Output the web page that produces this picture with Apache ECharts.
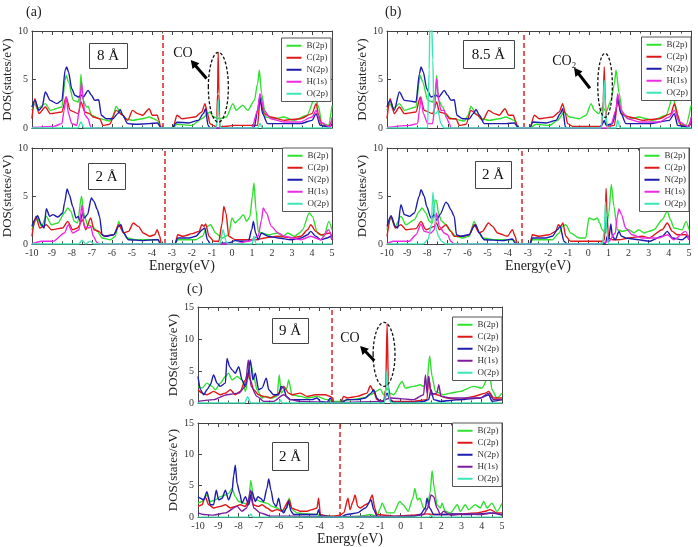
<!DOCTYPE html>
<html><head><meta charset="utf-8">
<script src="https://cdn.jsdelivr.net/npm/echarts@6/dist/echarts.min.js"></script>
<style>html,body{margin:0;padding:0;background:#fff}#c{width:698px;height:547px}</style>
</head><body><div id="c"></div>
<script>
// ---------------- DATA (energy eV, DOS states/eV) ----------------
const seriesNames = ['B(2p)','C(2p)','N(2p)','H(1s)','O(2p)'];
const energyTicks = [-10,-9,-8,-7,-6,-5,-4,-3,-2,-1,0,1,2,3,4,5];
const panelLabels = ['(a)','(b)','(c)'];
const distanceLabels = ['8 Å','2 Å','8.5 Å','2 Å','9 Å','2 Å'];
const fermiLevels = [-3.45,-3.35,-3.25,-3.3,-3.4,-3.0];

// (a) top, 8 Å
const aT_B=[[-10,1.82],[-9.85,2.51],[-9.74,1.99],[-9.33,2.51],[-9.08,1.82],[-8.5,2.16],[-8.34,4.91],[-8.29,5.43],[-8.17,4.74],[-7.93,2.85],[-7.68,2.68],[-7.6,3.5],[-7.55,5.53],[-7.48,3.5],[-7.43,2.85],[-7.27,2.16],[-7.19,2.23],[-7.02,1.31],[-6.61,0.96],[-6.12,0.72],[-5.95,1.2],[-5.79,2.23],[-5.54,1.48],[-5.3,0.96],[-4.97,0.79],[-4.47,0.96],[-4.14,1.13],[-3.73,0.79],[-3.57,0.1],[-3.49,0],[-2.95,0],[-2.75,0.38],[-2.01,0.27],[-1.51,0.96],[-1.1,1.65],[-0.94,1.13],[-0.61,0.96],[-0.28,1.13],[0.05,2.51],[0.21,1.82],[0.54,2.34],[0.79,1.82],[1.12,2.85],[1.28,4.57],[1.37,5.95],[1.48,3.54],[1.69,1.13],[2.11,0.96],[2.6,1.13],[3.09,0.79],[3.75,1.31],[4.16,3.2],[4.33,2.16],[4.49,0.45],[4.82,0.27],[5,2.34]];
const aT_C=[[-10,0.96],[-9.85,3.02],[-9.65,1.48],[-9.33,2.16],[-9.08,1.48],[-8.5,1.65],[-8.29,3.2],[-8.09,1.82],[-7.68,1.48],[-7.55,2.68],[-7.35,1.65],[-7.11,1.48],[-6.94,1.13],[-6.61,0.96],[-6.45,0.27],[-6.12,0.38],[-5.79,1.82],[-5.46,1.31],[-5.21,0.79],[-4.97,1.82],[-4.72,1.48],[-4.47,1.31],[-4.14,1.99],[-3.98,1.31],[-3.73,1.31],[-3.65,0.79],[-3.57,0.1],[-3.49,0],[-2.95,0],[-2.75,1.31],[-2.5,0.96],[-1.84,1.13],[-1.51,1.65],[-1.35,2.51],[-1.22,1.48],[-1.1,0.45],[-0.94,0.27],[-0.77,0.1],[-0.72,3.5],[-0.69,7.8],[-0.65,3.5],[-0.61,0.1],[0.13,0.27],[1.28,0.27],[1.4,2.85],[1.61,1.48],[1.94,1.13],[2.6,0.79],[3.42,0.96],[4.0,1.48],[4.21,2.51],[4.33,1.31],[4.49,0.27],[4.82,0.17],[5,0.79]];
const aT_N=[[-10,2.16],[-9.85,2.85],[-9.65,1.82],[-9.49,2.16],[-9.33,3.71],[-9.08,2.85],[-8.75,2.51],[-8.5,2.85],[-8.34,5.95],[-8.26,6.29],[-8.17,5.77],[-8.01,4.05],[-7.85,3.37],[-7.68,3.2],[-7.52,3.37],[-7.43,3.2],[-7.19,3.88],[-7.02,3.37],[-6.86,2.85],[-6.66,2.92],[-6.53,1.31],[-6.28,0.96],[-5.95,0.96],[-5.71,1.48],[-5.59,1.92],[-5.46,1.31],[-5.21,0.45],[-4.8,0.38],[-4.14,0.45],[-3.73,0.52],[-3.57,0.1],[-3.49,0],[-2.95,0],[-2.85,0.4],[-2.75,0.6],[-2.17,0.52],[-1.68,0.79],[-1.43,1.48],[-1.32,1.99],[-1.2,0.3],[-1.1,0],[0.9,0],[1.12,0.1],[1.28,1.82],[1.4,3.2],[1.53,1.48],[1.78,0.45],[2.6,0.45],[3.42,0.45],[4.0,0.79],[4.21,1.48],[4.41,0.27],[4.9,0.1],[5,0.45]];
const aT_H=[[-10,0.05],[-8.91,0.17],[-8.5,0.45],[-8.39,1.82],[-8.29,3.2],[-8.17,1.48],[-8.01,0.45],[-7.76,0.27],[-7.63,1.82],[-7.52,4.74],[-7.43,2.85],[-7.35,1.31],[-7.19,0.96],[-7.07,0.17],[-7.02,0],[1.0,0],[1.28,1.82],[1.4,3.54],[1.61,1.82],[1.94,0.96],[2.6,0.62],[3.42,0.62],[4.0,1.13],[4.21,1.82],[4.41,0.62],[4.9,0.1],[5,1.13]];
const aT_O=[[-10,0],[-7.7,0],[-7.55,0.62],[-7.4,0],[-0.8,0],[-0.72,1.5],[-0.69,2.92],[-0.65,1.5],[-0.58,0],[1.3,0],[1.4,0.5],[1.5,0],[5,0]];

// (a) bottom, 2 Å
const aB_B=[[-10,1.49],[-9.72,2.71],[-9.52,1.84],[-9.28,2.88],[-9.03,2.01],[-8.7,2.19],[-8.37,3.23],[-8.21,3.75],[-8.05,3.4],[-7.88,2.36],[-7.72,2.19],[-7.52,4.97],[-7.39,3.06],[-7.22,2.01],[-6.98,1.84],[-6.73,1.32],[-6.49,0.63],[-6.08,0.45],[-5.83,0.8],[-5.66,2.36],[-5.5,1.49],[-5.25,0.63],[-4.76,0.45],[-4.11,0.45],[-3.69,0.45],[-3.6,0.1],[-3.53,0],[-2.85,0],[-2.71,0.45],[-1.81,0.45],[-1.48,0.8],[-1.23,1.84],[-1.07,2.01],[-0.82,1.15],[-0.49,0.63],[-0.16,0.97],[0.0,2.71],[0.16,2.19],[0.33,2.53],[0.57,3.06],[0.74,2.36],[0.9,2.88],[1.02,4.97],[1.1,6.35],[1.2,3.58],[1.31,1.32],[1.48,1.15],[1.81,0.97],[2.3,1.15],[2.55,0.8],[2.79,1.15],[3.12,0.8],[3.37,1.15],[3.53,1.49],[3.86,3.23],[4.02,2.88],[4.27,1.15],[4.6,0.8],[4.84,2.36],[5,1.49]];
const aB_C=[[-10,0.8],[-9.8,2.88],[-9.61,1.67],[-9.28,2.01],[-9.03,1.49],[-8.46,1.67],[-8.21,2.36],[-7.96,1.49],[-7.72,1.67],[-7.47,2.53],[-7.31,1.49],[-7.06,2.71],[-6.9,1.49],[-6.65,1.32],[-6.4,0.8],[-5.91,0.97],[-5.66,2.01],[-5.42,1.15],[-5.17,1.32],[-4.93,2.19],[-4.68,1.84],[-4.43,1.15],[-4.11,0.8],[-3.86,0.97],[-3.74,1.49],[-3.61,0.8],[-3.53,0],[-2.85,0],[-2.71,0.97],[-2.46,0.8],[-1.97,1.08],[-1.64,1.32],[-1.51,2.01],[-1.4,1.84],[-1.31,2.08],[-1.15,0.8],[-0.9,0.28],[-0.66,0.28],[-0.49,2.19],[-0.41,3.92],[-0.3,3.23],[-0.16,0.8],[0.16,0.45],[0.82,0.45],[1.2,0.45],[1.64,0.63],[2.3,0.8],[2.96,0.63],[3.45,0.8],[3.78,1.49],[3.94,2.01],[4.19,1.32],[4.43,0.97],[4.93,1.15],[5,0.45]];
const aB_N=[[-10,1.84],[-9.85,2.53],[-9.72,2.95],[-9.52,2.01],[-9.39,1.67],[-9.28,3.68],[-9.11,2.88],[-8.95,3.06],[-8.7,2.81],[-8.46,3.23],[-8.37,4.27],[-8.24,5.73],[-8.13,5.14],[-7.96,3.92],[-7.8,2.71],[-7.68,2.88],[-7.59,2.36],[-7.47,3.23],[-7.39,2.71],[-7.22,3.06],[-7.03,4.79],[-6.9,4.44],[-6.73,3.58],[-6.62,2.88],[-6.49,0.97],[-6.32,0.8],[-5.91,0.97],[-5.66,1.84],[-5.55,2.01],[-5.42,1.15],[-5.17,0.45],[-4.43,0.35],[-3.86,0.45],[-3.69,0.45],[-3.61,0.1],[-3.53,0],[-2.85,0],[-2.71,0.63],[-2.13,0.63],[-1.81,0.8],[-1.48,1.49],[-1.36,1.67],[-1.23,0.45],[-1.07,0],[-0.16,0.1],[0.16,0.35],[0.49,0.28],[0.82,0.28],[0.99,1.49],[1.07,2.36],[1.18,1.15],[1.31,0.45],[1.48,1.15],[1.81,0.8],[2.3,0.63],[2.96,0.45],[3.45,0.63],[3.78,0.97],[3.94,1.32],[4.19,0.8],[4.43,0.45],[4.76,0.63],[4.93,0.8],[5,0.45]];
const aB_H=[[-10,0],[-9.52,0.28],[-8.95,0.28],[-8.37,1.15],[-8.18,2.01],[-7.96,1.15],[-7.64,1.49],[-7.5,4.1],[-7.39,1.84],[-7.14,1.67],[-7.06,1.84],[-6.93,0.8],[-6.73,0.1],[-6.57,0],[0.16,0],[0.82,0.28],[1.31,0.8],[1.48,2.53],[1.56,3.75],[1.72,3.23],[1.97,1.84],[2.3,1.15],[2.63,0.8],[3.45,0.45],[3.94,0.8],[4.43,0.45],[4.84,1.49],[5,0.45]];
const aB_O=[[-10,0],[-7.65,0],[-7.5,0.4],[-7.3,0],[-7.1,0.3],[-6.9,0],[-0.6,0],[-0.45,1.49],[-0.3,0.3],[-0.2,0],[1.0,0],[1.1,0.8],[1.2,0],[5,0]];

// (b) top, 8.5 Å
const bT_B=[[-10,1.82],[-9.85,2.51],[-9.72,1.99],[-9.39,2.51],[-9.14,1.82],[-8.57,2.16],[-8.4,4.91],[-8.36,5.43],[-8.24,4.74],[-7.99,2.85],[-7.75,2.68],[-7.62,3.5],[-7.55,5.43],[-7.48,3.5],[-7.45,2.85],[-7.25,2.16],[-7.09,1.31],[-6.76,0.96],[-6.18,0.72],[-6.0,1.3],[-5.86,2.23],[-5.61,1.48],[-5.36,0.96],[-4.95,0.79],[-4.46,0.96],[-4.13,1.13],[-3.72,0.79],[-3.55,0.1],[-3.47,0],[-2.95,0],[-2.65,0.38],[-1.99,0.27],[-1.58,0.79],[-1.25,1.65],[-1.0,1.13],[-0.51,0.96],[-0.18,1.31],[0.07,2.51],[0.23,1.82],[0.44,1.48],[0.64,2.16],[0.81,1.65],[1.05,2.85],[1.22,4.57],[1.3,5.95],[1.46,3.54],[1.63,1.31],[1.96,0.96],[2.45,1.13],[2.78,0.96],[3.11,0.79],[3.77,1.31],[4.1,3.2],[4.26,2.16],[4.42,0.45],[4.75,0.27],[5,2.34]];
const bT_C=[[-10,0.96],[-9.85,3.02],[-9.64,1.48],[-9.39,2.16],[-9.14,1.48],[-8.57,1.65],[-8.36,3.2],[-8.16,1.82],[-7.75,1.48],[-7.55,2.68],[-7.42,1.65],[-7.09,1.48],[-6.92,0.96],[-6.6,0.96],[-6.43,0.27],[-6.1,0.38],[-5.86,1.82],[-5.53,1.31],[-5.28,0.79],[-4.98,1.82],[-4.7,1.48],[-4.46,1.31],[-4.18,1.99],[-4.0,1.31],[-3.77,1.31],[-3.67,0.79],[-3.55,0.1],[-3.47,0],[-2.95,0],[-2.73,1.31],[-2.48,0.96],[-1.83,1.13],[-1.5,1.65],[-1.33,2.51],[-1.2,1.48],[-1.09,0.45],[-0.84,0.17],[0.6,0.17],[0.67,2.85],[0.72,6.29],[0.77,2.85],[0.84,0.17],[1.22,0.27],[1.38,2.85],[1.55,1.48],[1.96,1.13],[2.62,0.79],[3.44,0.96],[4.01,1.48],[4.18,2.51],[4.34,1.31],[4.51,0.27],[4.84,0.17],[5,0.79]];
const bT_N=[[-10,2.16],[-9.85,2.85],[-9.64,1.82],[-9.39,3.71],[-9.14,2.85],[-8.57,2.68],[-8.4,5.6],[-8.32,6.29],[-8.21,5.77],[-8.04,4.05],[-7.83,3.2],[-7.58,3.37],[-7.45,3.2],[-7.17,3.88],[-7.01,3.37],[-6.84,2.85],[-6.68,2.92],[-6.55,1.31],[-6.27,0.96],[-5.94,0.96],[-5.74,1.48],[-5.61,1.92],[-5.44,1.31],[-5.2,0.45],[-4.13,0.45],[-3.72,0.52],[-3.55,0.1],[-3.47,0],[-2.95,0],[-2.81,0.62],[-2.15,0.52],[-1.66,0.79],[-1.45,1.48],[-1.33,1.99],[-1.2,0.1],[-1.09,0],[0.5,0],[0.64,0.45],[0.72,0.79],[0.81,0.27],[1.13,0.45],[1.3,1.82],[1.38,3.2],[1.55,1.48],[1.79,0.45],[2.94,0.45],[3.93,0.79],[4.18,1.48],[4.34,0.27],[4.84,0.1],[5,0.45]];
const bT_H=[[-10,0.05],[-8.9,0.27],[-8.49,0.45],[-8.4,1.82],[-8.32,3.2],[-8.21,1.48],[-7.99,0.45],[-7.75,0.45],[-7.66,1.82],[-7.55,5.1],[-7.45,2.85],[-7.34,1.82],[-7.17,1.82],[-7.09,1.13],[-6.92,0.45],[-6.84,0],[1.0,0],[1.3,1.82],[1.38,3.54],[1.55,1.82],[1.88,0.96],[2.45,0.62],[3.44,0.62],[3.93,1.13],[4.18,1.82],[4.42,0.62],[4.92,0.1],[5,1.13]];
const bT_O=[[-10,0],[-8.0,0],[-7.92,6],[-7.88,11],[-7.8,11],[-7.74,7],[-7.68,1.5],[-7.58,1.5],[-7.48,1.8],[-7.35,0.5],[-7.2,0],[0.55,0],[0.65,1.5],[0.72,4.9],[0.79,1.5],[0.88,0],[1.3,0],[1.38,0.8],[1.5,0],[5,0]];

// (b) bottom, 2 Å
const bB_B=[[-10,1.49],[-9.8,2.71],[-9.59,1.84],[-9.31,2.88],[-9.06,2.01],[-8.64,2.53],[-8.4,3.4],[-8.26,3.75],[-8.07,3.23],[-7.9,2.36],[-7.74,2.19],[-7.62,4.6],[-7.54,4.5],[-7.44,3.2],[-7.3,2.4],[-7.07,2.01],[-6.91,1.49],[-6.58,0.8],[-6.25,0.63],[-5.92,0.8],[-5.67,2.36],[-5.5,1.49],[-5.26,0.63],[-4.6,0.45],[-3.77,0.45],[-3.64,0.3],[-3.52,0],[-2.9,0],[-2.78,0.45],[-1.79,0.45],[-1.45,1.15],[-1.29,1.84],[-1.12,2.01],[-0.88,1.15],[-0.46,0.63],[-0.13,0.63],[0.03,2.71],[0.28,2.53],[0.45,2.71],[0.56,2.19],[0.69,1.49],[0.86,1.15],[1.02,3.23],[1.14,6.2],[1.27,3.92],[1.44,1.49],[1.69,1.32],[2.02,1.49],[2.26,1.15],[2.51,1.49],[2.76,1.15],[3.01,1.32],[3.26,1.49],[3.67,2.53],[3.92,3.4],[4.08,2.53],[4.25,1.67],[4.66,1.49],[4.86,2.36],[5,1.49]];
const bB_C=[[-10,0.8],[-9.8,2.88],[-9.59,1.67],[-9.31,2.01],[-9.06,1.49],[-8.56,1.6],[-8.31,2.36],[-8.07,1.49],[-7.65,1.84],[-7.54,2.19],[-7.4,1.49],[-7.07,2.01],[-6.83,1.32],[-6.66,0.8],[-6.25,0.8],[-5.92,0.97],[-5.67,2.01],[-5.42,1.15],[-5.26,1.32],[-4.96,2.19],[-4.76,1.84],[-4.51,1.15],[-4.02,0.8],[-3.77,1.49],[-3.64,0.8],[-3.52,0],[-2.9,0],[-2.78,0.97],[-2.45,0.8],[-1.95,0.97],[-1.62,1.32],[-1.49,2.01],[-1.37,1.84],[-1.26,2.19],[-1.12,0.8],[-0.88,0.28],[0.69,0.28],[0.8,0.45],[0.85,3.0],[0.88,5.8],[0.93,3.0],[1.0,0.6],[1.19,0.45],[1.52,0.45],[2.02,0.63],[2.68,0.8],[3.01,0.63],[3.67,1.49],[3.92,2.19],[4.17,1.32],[4.41,0.97],[4.83,0.97],[5,0.8]];
const bB_N=[[-10,1.84],[-9.8,2.95],[-9.59,1.84],[-9.47,1.67],[-9.31,4.1],[-9.14,3.06],[-8.89,2.88],[-8.64,3.23],[-8.4,4.97],[-8.31,5.66],[-8.15,4.97],[-8.03,3.92],[-7.82,2.71],[-7.65,3.06],[-7.54,2.46],[-7.37,3.06],[-7.07,4.36],[-6.99,4.2],[-6.83,3.58],[-6.66,2.88],[-6.55,0.97],[-6.33,0.8],[-5.92,0.97],[-5.67,1.84],[-5.59,2.01],[-5.42,1.15],[-5.17,0.45],[-4.26,0.35],[-3.77,0.52],[-3.64,0.1],[-3.52,0],[-2.9,0],[-2.78,0.63],[-2.12,0.63],[-1.79,0.8],[-1.54,1.49],[-1.4,1.84],[-1.21,0.28],[-1.04,0],[0.5,0],[0.86,0.1],[0.94,0.8],[1.0,0.3],[1.12,2.1],[1.19,0.8],[1.34,0.45],[1.52,1.3],[1.65,0.8],[1.93,0.6],[2.51,0.45],[3.01,0.28],[3.67,0.8],[3.92,1.32],[4.17,0.63],[4.66,0.45],[4.91,0.8],[5,0.45]];
const bB_H=[[-10,0],[-9.7,0.28],[-8.89,0.28],[-8.56,0.97],[-8.31,2.08],[-8.15,1.32],[-7.82,1.15],[-7.65,1.49],[-7.54,3.23],[-7.4,1.84],[-7.16,1.15],[-6.99,0.97],[-6.83,0.28],[-6.66,0],[0.5,0],[1.02,0.28],[1.34,1.15],[1.44,2.88],[1.52,3.65],[1.65,3.06],[1.85,1.67],[2.18,0.97],[2.68,0.63],[3.5,0.63],[3.92,0.97],[4.25,0.45],[4.83,1.32],[5,0.45]];
const bB_O=[[-10,0],[-8.2,0],[-7.95,0.5],[-7.8,2.0],[-7.72,5.4],[-7.64,3.5],[-7.55,1.5],[-7.44,0.8],[-7.3,0.3],[-7.1,0],[0.7,0],[0.8,1.5],[0.85,4.4],[0.9,1.8],[1.0,0],[5,0]];

// (c) top, 9 Å
const cT_B=[[-10,2.59],[-9.8,2.33],[-9.56,3.1],[-9.31,2.59],[-9.14,2.07],[-8.9,3.1],[-8.65,4.14],[-8.49,4.66],[-8.32,3.62],[-8.07,4.14],[-7.83,3.62],[-7.66,1.81],[-7.55,3.62],[-7.42,6.47],[-7.25,4.14],[-7.09,2.07],[-6.84,0.78],[-6.68,1.03],[-6.35,0.78],[-6.1,1.03],[-5.99,4.4],[-5.9,1.55],[-5.74,2.07],[-5.61,2.33],[-5.53,3.62],[-5.36,1.29],[-4.95,1.03],[-4.62,0.78],[-4.13,1.03],[-3.63,0.52],[-3.31,0.26],[-2.98,0.26],[-2.48,0.52],[-1.83,0.78],[-1.5,1.29],[-1.0,2.17],[-0.84,1.29],[-0.67,2.33],[-0.54,1.55],[-0.35,1.29],[0.07,3.36],[0.23,2.33],[0.64,2.59],[0.97,2.85],[1.13,2.59],[1.3,3.36],[1.43,7.35],[1.55,4.14],[1.71,1.81],[2.12,1.29],[2.45,1.55],[2.94,1.81],[3.6,2.59],[4.01,2.33],[4.39,4.55],[4.51,2.07],[4.75,0.78],[5,1.55]];
const cT_C=[[-10,2.07],[-9.8,1.55],[-9.56,1.29],[-9.23,1.81],[-8.9,1.29],[-8.65,1.55],[-8.4,2.07],[-8.16,1.29],[-7.92,1.81],[-7.66,3.62],[-7.55,4.66],[-7.42,3.62],[-7.25,2.07],[-7.01,1.29],[-6.76,1.03],[-6.43,0.78],[-6.1,1.29],[-5.77,2.59],[-5.53,1.55],[-5.36,1.29],[-4.95,1.55],[-4.62,1.03],[-4.21,1.29],[-3.96,1.29],[-3.72,1.29],[-3.47,1.03],[-3.34,0.78],[-3.31,0],[-2.98,0],[-2.81,1.03],[-2.65,0.78],[-2.15,1.03],[-1.66,1.55],[-1.5,2.69],[-1.33,1.81],[-1.17,0.52],[-0.84,0.26],[-0.74,2.07],[-0.67,12.4],[-0.6,2.5],[-0.51,0.52],[-0.35,0.26],[0.64,0.26],[1.3,0.52],[1.38,4.14],[1.5,1.55],[1.79,1.29],[2.29,0.78],[2.94,0.52],[3.6,1.03],[4.18,1.55],[4.34,1.81],[4.59,0.78],[5,0.78]];
const cT_N=[[-10,4.14],[-9.88,2.07],[-9.72,1.29],[-9.56,2.07],[-9.39,2.85],[-9.23,4.4],[-9.06,3.1],[-8.9,2.59],[-8.65,3.1],[-8.57,6.98],[-8.44,5.69],[-8.32,5.17],[-8.16,4.66],[-7.99,5.69],[-7.83,3.62],[-7.66,2.59],[-7.55,4.14],[-7.42,6.73],[-7.29,3.62],[-7.17,4.66],[-7.01,2.07],[-6.84,2.33],[-6.63,3.88],[-6.51,2.07],[-6.27,1.29],[-6.02,1.29],[-5.9,2.59],[-5.77,2.33],[-5.64,1.03],[-5.44,0.52],[-4.95,0.52],[-4.38,0.52],[-4.13,0.78],[-3.96,0.26],[-3.63,0.1],[-3.47,0.78],[-3.31,0],[-2.98,0],[-2.65,0.52],[-2.15,0.52],[-1.74,0.78],[-1.46,1.55],[-1.33,2.07],[-1.17,0.78],[-1.0,0.1],[-0.84,0.26],[-0.67,1.55],[-0.54,0.52],[-0.35,0.1],[0.64,0.1],[1.13,0.26],[1.38,0.52],[1.5,2.07],[1.63,0.52],[1.96,0.26],[2.94,0.52],[3.93,0.78],[4.34,1.29],[4.51,0.26],[5,0.52]];
const cT_H=[[-10,0.26],[-9.23,0.52],[-8.57,1.29],[-7.99,1.55],[-7.66,2.59],[-7.52,6.73],[-7.38,2.59],[-7.09,1.03],[-6.76,0.26],[-6.27,0.26],[-5.77,1.29],[-5.44,0.52],[-4.95,0.26],[-3.31,0.1],[-2.98,0.1],[-1.0,0.26],[-0.51,0.78],[0.64,0.52],[1.13,1.29],[1.22,4.4],[1.3,1.55],[1.38,4.14],[1.5,1.29],[1.79,1.55],[1.88,2.85],[1.99,1.03],[2.45,0.78],[3.27,0.78],[3.93,0.78],[4.34,1.55],[4.59,0.52],[5,0.52]];
const cT_O=[[-10,0],[-7.7,0],[-7.55,1.0],[-7.4,0],[-6.0,0],[-5.95,0.5],[-5.85,0],[-0.8,0],[-0.72,2.5],[-0.67,5.17],[-0.6,1.5],[-0.5,0],[5,0]];

// (c) bottom, 2 Å
const cB_B=[[-10,2.22],[-9.8,2.48],[-9.56,3.52],[-9.39,2.48],[-9.14,2.74],[-8.9,3.26],[-8.65,3.52],[-8.49,3.78],[-8.32,4.55],[-8.16,3.26],[-7.99,2.48],[-7.75,2.22],[-7.5,1.97],[-7.4,5.85],[-7.25,3.0],[-7.09,2.74],[-6.92,2.48],[-6.6,2.22],[-6.35,1.71],[-6.1,1.45],[-5.94,1.19],[-5.77,0.93],[-5.61,1.45],[-5.5,3.0],[-5.36,1.19],[-5.12,0.67],[-4.62,0.52],[-4.13,0.41],[-3.96,0.16],[-3.31,0.16],[-3.0,0],[-2.0,0.16],[-1.5,0.41],[-1.17,0.16],[-1.0,1.45],[-0.92,2.22],[-0.67,0.67],[-0.35,0.67],[-0.05,2.48],[0.12,1.97],[0.37,0.93],[0.6,3.0],[0.7,4.55],[0.82,2.74],[0.95,3.0],[1.13,1.45],[1.3,1.19],[1.46,4.04],[1.55,7.4],[1.66,4.55],[1.79,1.97],[1.96,1.45],[2.04,2.22],[2.2,0.93],[2.45,0.67],[2.8,1.97],[2.94,0.93],[3.19,1.97],[3.35,1.19],[3.68,1.97],[3.93,1.45],[4.1,2.48],[4.26,1.45],[4.5,2.22],[4.75,0.93],[5,2.22]];
const cB_C=[[-10,1.71],[-9.8,1.97],[-9.65,3.26],[-9.47,1.97],[-9.23,1.45],[-8.9,1.71],[-8.65,1.97],[-8.4,1.45],[-8.16,1.71],[-7.92,1.97],[-7.66,1.71],[-7.5,2.74],[-7.4,3.52],[-7.29,1.97],[-7.01,1.71],[-6.84,1.97],[-6.6,1.45],[-6.35,0.93],[-6.1,1.19],[-5.86,0.93],[-5.5,2.74],[-5.38,1.45],[-5.17,1.19],[-4.95,0.93],[-4.62,0.93],[-4.38,1.19],[-4.13,1.45],[-4.05,3.0],[-3.96,0.41],[-3.63,0.16],[-3.31,0.16],[-3.0,0.3],[-2.81,0.67],[-2.6,3.0],[-2.5,1.19],[-2.35,2.48],[-2.25,3.52],[-2.12,1.71],[-1.99,1.45],[-1.74,1.97],[-1.58,2.22],[-1.4,3.52],[-1.28,1.45],[-1.17,0.41],[-0.35,0.16],[0.64,0.31],[1.3,0.52],[1.63,0.41],[2.12,0.41],[2.94,0.52],[3.77,0.67],[4.18,0.93],[4.42,1.19],[4.75,0.67],[5,0.67]];
const cB_N=[[-10,3.26],[-9.88,3.0],[-9.72,2.74],[-9.56,4.04],[-9.39,1.97],[-9.23,1.97],[-9.1,4.3],[-8.98,2.74],[-8.81,3.0],[-8.65,4.29],[-8.49,2.74],[-8.32,4.04],[-8.24,6.62],[-8.16,8.28],[-8.07,5.33],[-7.94,3.78],[-7.83,2.22],[-7.66,3.26],[-7.5,1.97],[-7.34,4.04],[-7.17,2.48],[-7.04,3.26],[-6.92,3.0],[-6.76,2.48],[-6.6,4.55],[-6.51,6.1],[-6.4,4.29],[-6.27,2.22],[-6.14,1.71],[-6.02,3.0],[-5.9,1.19],[-5.77,0.67],[-5.64,1.45],[-5.53,2.48],[-5.41,0.93],[-5.28,0.41],[-4.62,0.41],[-4.13,0.41],[-4.05,1.19],[-3.96,0.16],[-3.63,0.16],[-3.31,0],[-3.0,0],[-2.65,0.41],[-2.15,0.67],[-1.74,1.45],[-1.46,2.74],[-1.33,1.19],[-1.17,0.16],[-1.0,0],[0.64,0.16],[0.97,0.41],[1.22,1.45],[1.3,3.0],[1.43,1.45],[1.63,0.41],[2.12,0.41],[2.61,0.52],[3.27,0.41],[3.93,0.52],[4.42,0.67],[5,0.31]];
const cB_H=[[-10,0.67],[-9.72,0.41],[-9.23,0.31],[-8.65,0.67],[-8.07,1.71],[-7.83,0.93],[-7.6,1.45],[-7.4,4.29],[-7.25,1.45],[-6.92,0.67],[-6.43,0.16],[-5.44,0.16],[-3.31,0.05],[0.64,0.16],[1.13,0.41],[1.34,1.45],[1.5,3.52],[1.63,3.26],[1.79,1.45],[1.96,0.41],[2.12,0.93],[2.45,0.31],[3.27,0.52],[3.93,0.41],[4.59,0.67],[5,0.41]];
const cB_O=[[-10,0],[-7.5,0],[-7.4,0.5],[-7.3,0],[1.4,0],[1.5,0.3],[1.6,0],[5,0]];

// ---------------- LAYOUT / STYLE ----------------
const FONT = 'Liberation Serif';
const COL = {B:'#2fe02f', C:'#e01818', N:'#1c1cae', H:'#ee2ae2', O:'#3ce6b6'};
const PURPLE = '#7d1c9e';
const panels = [
  {grid:{left:28,top:31,width:304,height:97},  ymax:10, xlab:false, data:[aT_B,aT_C,aT_N,aT_H,aT_O], h:COL.H,  legend:{right:367,top:38}, box:[89,43,38,25]},
  {grid:{left:28,top:148,width:304,height:96}, ymax:10, xlab:true,  data:[aB_B,aB_C,aB_N,aB_H,aB_O], h:COL.H,  legend:{right:366,top:148}, box:[88,163,37,26]},
  {grid:{left:387,top:31,width:304,height:97}, ymax:10, xlab:false, data:[bT_B,bT_C,bT_N,bT_H,bT_O], h:COL.H,  legend:{right:7,top:37}, box:[463,40,51,28]},
  {grid:{left:387,top:148,width:302,height:96},ymax:10, xlab:true,  data:[bB_B,bB_C,bB_N,bB_H,bB_O], h:COL.H,  legend:{right:9,top:148}, box:[475,161,36,27]},
  {grid:{left:198,top:307,width:304,height:96},ymax:15, xlab:false, data:[cT_B,cT_C,cT_N,cT_H,cT_O], h:PURPLE, legend:{right:196,top:317}, box:[272,318,36,25]},
  {grid:{left:198,top:423,width:304,height:96},ymax:15, xlab:true,  data:[cB_B,cB_C,cB_N,cB_H,cB_O], h:PURPLE, legend:{right:196,top:423}, box:[272,442,36,28]}
];
// annotations in data coordinates
const annots = [
  {g:0, e:[-0.68,4.2,0.5,3.6], head:[-2.06,7.0], tail:[-1.27,5.1], t:[-2.45,7.7], text:'CO'},
  {g:2, e:[0.76,4.4,0.36,3.3], head:[-0.77,6.2], tail:[0.01,4.1], t:[-1.25,6.9], text:'CO₂'},
  {g:4, e:[-0.82,7.6,0.54,5.0], head:[-2.0,8.9], tail:[-1.3,6.6], t:[-2.5,10.1], text:'CO'}
];

const chart = echarts.init(document.getElementById('c'), null, {renderer:'canvas'});
const grid=[], xAxis=[], yAxis=[], series=[], legend=[];
const AX = '#444';
panels.forEach((p,g)=>{
  grid.push(Object.assign({show:false}, p.grid));
  const xBase = {type:'value', gridIndex:g, min:energyTicks[0], max:energyTicks[energyTicks.length-1], interval:1,
    axisLine:{show:true,onZero:false,lineStyle:{color:AX,width:1}},
    axisTick:{show:true,inside:true,length:4,lineStyle:{color:AX}},
    minorTick:{show:true,splitNumber:2,length:2.5,lineStyle:{color:AX}},
    splitLine:{show:false}};
  xAxis.push(Object.assign({}, xBase, {position:'bottom',
    axisLabel:{show:p.xlab, fontFamily:FONT, fontSize:10, color:'#333', margin:4},
    name:p.xlab?'Energy(eV)':'', nameLocation:'middle', nameGap:12,
    nameTextStyle:{fontFamily:FONT, fontSize:14, color:'#222'}}));
  xAxis.push(Object.assign({}, xBase, {position:'top', axisLabel:{show:false}}));
  const yBase = {type:'value', gridIndex:g, min:0, max:p.ymax, interval:5,
    axisLine:{show:true,onZero:false,lineStyle:{color:AX,width:1}},
    axisTick:{show:true,inside:true,length:4,lineStyle:{color:AX}},
    splitLine:{show:false}};
  yAxis.push(Object.assign({}, yBase, {position:'left',
    axisLabel:{show:true, fontFamily:FONT, fontSize:10, color:'#333', margin:4},
    name:'DOS(states/eV)', nameLocation:'middle', nameGap:13, nameRotate:90,
    nameTextStyle:{fontFamily:FONT, fontSize:13, color:'#222', verticalAlign:'bottom'}}));
  yAxis.push(Object.assign({}, yBase, {position:'right', axisLabel:{show:false}}));
  const cols = [COL.B, COL.C, COL.N, p.h, COL.O];
  seriesNames.forEach((nm,k)=>{
    const s = {type:'line', name:nm, xAxisIndex:2*g, yAxisIndex:2*g, data:p.data[k],
      showSymbol:false, symbol:'none', clip:true, animation:false,
      smooth:0.25, smoothMonotone:'x',
      lineStyle:{width:1.4, color:cols[k]}, itemStyle:{color:cols[k]}, z:2+k};
    if(k===0){
      s.markLine = {silent:true, symbol:['none','none'], animation:false,
        label:{show:false}, lineStyle:{color:'#e02222', type:[5,3], width:1.5},
        data:[{xAxis:fermiLevels[g]}]};
    }
    series.push(s);
  });
  legend.push({orient:'vertical', right:p.legend.right, top:p.legend.top, selectedMode:false,
    data: seriesNames.map((nm,k)=>({name:nm, itemStyle:{color:cols[k]}})),
    icon:'rect', itemWidth:15, itemHeight:2, itemGap:2.5, padding:[3,3,3,5],
    borderColor:'#555', borderWidth:1, backgroundColor:'#fff',
    textStyle:{fontFamily:FONT, fontSize:9, color:'#333', lineHeight:9.5}, z:10});
});

chart.setOption({animation:false, backgroundColor:'#fff', grid, xAxis, yAxis, series, legend});

// -------- graphic annotations ----------
const gr = [];
const lblPos = [[26,5],[385,5],[187,282]];
panelLabels.forEach((t,i)=>gr.push({type:'text', left:lblPos[i][0], top:lblPos[i][1],
  style:{text:t, fontFamily:FONT, fontSize:14, fill:'#222'}}));
panels.forEach((p,g)=>{
  const [x,y,w,h] = p.box;
  gr.push({type:'rect', shape:{x:x+0.5,y:y+0.5,width:w,height:h}, style:{fill:'#fff',stroke:'#444',lineWidth:1}, z:20});
  gr.push({type:'text', x:x+w/2, y:y+h/2+1, style:{text:distanceLabels[g], fontFamily:FONT, fontSize:15, fill:'#111', align:'center', verticalAlign:'middle'}, z:21});
});
const P = (g,pt)=>chart.convertToPixel({gridIndex:g}, pt);
annots.forEach(a=>{
  const c = P(a.g,[a.e[0],a.e[1]]), e = P(a.g,[a.e[0]+a.e[2], a.e[1]+a.e[3]]);
  gr.push({type:'ellipse', shape:{cx:c[0],cy:c[1],rx:Math.abs(e[0]-c[0]),ry:Math.abs(c[1]-e[1])},
    style:{fill:'none',stroke:'#111',lineWidth:1.3,lineDash:[3,2]}, z:30});
  const h = P(a.g,a.head), t = P(a.g,a.tail);
  const dx=h[0]-t[0], dy=h[1]-t[1], L=Math.hypot(dx,dy), ux=dx/L, uy=dy/L, nx=-uy, ny=ux;
  const hl=8, hw=4.5;
  const bx=h[0]-ux*hl, by=h[1]-uy*hl;
  gr.push({type:'line', shape:{x1:t[0],y1:t[1],x2:bx+ux,y2:by+uy}, style:{stroke:'#000',lineWidth:3}, z:30});
  gr.push({type:'polygon', shape:{points:[[h[0],h[1]],[bx+nx*hw,by+ny*hw],[bx-nx*hw,by-ny*hw]]}, style:{fill:'#000'}, z:30});
  const tp = P(a.g,a.t);
  gr.push({type:'text', x:tp[0], y:tp[1], style:{text:a.text, fontFamily:FONT, fontSize:14, fill:'#111', align:'center', verticalAlign:'middle'}, z:30});
});
chart.setOption({graphic:gr});
</script></body></html>
